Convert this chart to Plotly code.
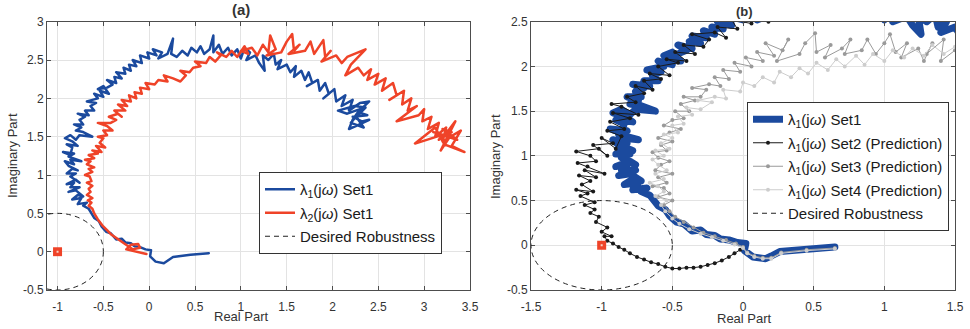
import plotly.graph_objects as go

# ---------------- data (real part, imaginary part) ----------------
# lambda_1(jw) Set1 (used in both panels)
l1_set1 = [(0.65, -0.02), (0.45, -0.04), (0.26, -0.07), (0.2, -0.12), (0.16, -0.15), (0.07, -0.13), (0.01, -0.06),
           (0.02, 0.02), (-0.04, 0.03), (-0.1, 0.06), (-0.16, 0.07), (-0.2, 0.11), (-0.26, 0.12), (-0.3, 0.17),
           (-0.36, 0.16), (-0.42, 0.24), (-0.47, 0.26), (-0.52, 0.33), (-0.55, 0.4), (-0.6, 0.44), (-0.63, 0.5),
           (-0.66, 0.56), (-0.72, 0.6), (-0.68, 0.64), (-0.78, 0.62), (-0.74, 0.7), (-0.84, 0.68), (-0.78, 0.74),
           (-0.72, 0.72), (-0.8, 0.8), (-0.88, 0.78), (-0.76, 0.84), (-0.86, 0.84), (-0.82, 0.9),
           (-0.9, 0.88), (-0.8, 0.94), (-0.76, 0.9), (-0.86, 0.98), (-0.8, 1.02), (-0.9, 1.02), (-0.84, 1.08),
           (-0.78, 1.06), (-0.88, 1.12), (-0.92, 1.18), (-0.82, 1.14), (-0.86, 1.2), (-0.74, 1.18), (-0.88, 1.24),
           (-0.82, 1.28), (-0.94, 1.3), (-0.86, 1.26), (-0.84, 1.36), (-0.9, 1.4), (-0.78, 1.38), (-0.84, 1.44),
           (-0.92, 1.48), (-0.86, 1.52), (-0.8, 1.46), (-0.76, 1.52), (-0.62, 1.5), (-0.72, 1.56),
           (-0.8, 1.58), (-0.74, 1.62), (-0.82, 1.66), (-0.72, 1.66), (-0.76, 1.72), (-0.7, 1.76), (-0.78, 1.8),
           (-0.66, 1.78), (-0.7, 1.84),
           (-0.6, 1.84), (-0.64, 1.9), (-0.58, 1.94), (-0.68, 1.96), (-0.56, 2.0), (-0.6, 2.06), (-0.5, 2.02),
           (-0.54, 2.1), (-0.44, 2.06), (-0.5, 2.16), (-0.56, 2.12), (-0.46, 2.14), (-0.4, 2.18),
           (-0.46, 2.24), (-0.36, 2.2), (-0.38, 2.28), (-0.3, 2.26), (-0.36, 2.34), (-0.26, 2.32), (-0.28, 2.4),
           (-0.2, 2.36), (-0.22, 2.44), (-0.14, 2.42), (-0.18, 2.5), (-0.08, 2.46), (-0.1, 2.56), (0.0, 2.52),
           (-0.02, 2.6), (0.08, 2.56), (0.04, 2.64), (0.14, 2.6), (0.1, 2.52), (0.2, 2.58), (0.26, 2.78),
           (0.24, 2.58), (0.3, 2.54), (0.36, 2.62), (0.42, 2.56), (0.46, 2.66), (0.52, 2.6), (0.56, 2.68),
           (0.6, 2.58), (0.66, 2.64), (0.7, 2.82), (0.7, 2.6), (0.76, 2.7), (0.8, 2.58), (0.86, 2.66),
           (0.9, 2.56), (0.96, 2.64), (1.0, 2.52), (1.04, 2.66), (1.1, 2.6), (1.06, 2.5), (1.16, 2.56),
           (1.2, 2.46), (1.26, 2.36), (1.24, 2.56), (1.3, 2.5), (1.36, 2.58), (1.38, 2.44), (1.44, 2.5),
           (1.4, 2.38), (1.5, 2.44), (1.54, 2.34), (1.6, 2.42), (1.58, 2.28), (1.66, 2.36), (1.7, 2.24),
           (1.74, 2.34), (1.78, 2.2), (1.72, 2.16), (1.84, 2.24), (1.86, 2.1), (1.92, 2.2), (1.96, 2.06),
           (1.9, 2.0), (2.02, 2.12), (2.04, 1.96), (2.14, 2.04), (2.1, 1.9), (2.22, 1.98), (2.18, 1.84),
           (2.3, 1.94), (2.4, 1.96), (2.28, 1.82), (2.38, 1.78), (2.22, 1.76), (2.32, 1.7), (2.4, 1.72),
           (2.26, 1.64), (2.18, 1.6), (2.22, 1.72), (2.3, 1.86), (2.16, 1.8), (2.06, 1.84), (2.24, 1.9),
           (2.36, 1.88), (2.26, 1.76), (2.34, 1.62), (2.2, 1.68), (2.28, 1.8)]

# lambda_2(jw) Set1 (left panel only)
l2_set1 = [(-0.03, -0.03), (-0.25, 0.03), (-0.2, 0.09), (-0.12, 0.1), (-0.1, 0.05), (-0.18, 0.03), (-0.24, 0.08),
           (-0.3, 0.13), (-0.36, 0.18), (-0.41, 0.22), (-0.46, 0.28), (-0.51, 0.34), (-0.56, 0.42), (-0.6, 0.5),
           (-0.62, 0.56), (-0.66, 0.6), (-0.63, 0.64), (-0.67, 0.67), (-0.62, 0.7), (-0.68, 0.74), (-0.64, 0.78),
           (-0.66, 0.82), (-0.62, 0.86), (-0.68, 0.9), (-0.63, 0.92), (-0.65, 0.98), (-0.7, 1.0), (-0.62, 1.04),
           (-0.66, 1.08), (-0.6, 1.1), (-0.68, 1.14), (-0.64, 1.18), (-0.7, 1.2),
           (-0.6, 1.22), (-0.66, 1.26), (-0.56, 1.28), (-0.62, 1.32), (-0.52, 1.3), (-0.58, 1.38), (-0.48, 1.36),
           (-0.54, 1.42), (-0.5, 1.48), (-0.56, 1.5),
           (-0.46, 1.52), (-0.5, 1.58), (-0.4, 1.58), (-0.46, 1.64), (-0.56, 1.68), (-0.42, 1.68), (-0.36, 1.72),
           (-0.44, 1.76), (-0.34, 1.8), (-0.3, 1.76), (-0.38, 1.84), (-0.26, 1.84),
           (-0.34, 1.92), (-0.24, 1.9), (-0.3, 1.98), (-0.2, 1.96), (-0.22, 2.04), (-0.14, 2.0), (-0.16, 2.08),
           (-0.08, 2.06), (-0.1, 2.14), (0.0, 2.12),
           (-0.04, 2.2), (0.06, 2.18), (0.1, 2.24), (0.2, 2.22), (0.16, 2.3), (0.26, 2.26), (0.34, 2.22),
           (0.4, 2.3), (0.34, 2.36), (0.44, 2.34), (0.48, 2.4),
           (0.56, 2.42), (0.5, 2.48), (0.62, 2.46), (0.66, 2.54), (0.72, 2.48), (0.78, 2.56), (0.74, 2.6),
           (0.84, 2.54), (0.9, 2.62),
           (0.96, 2.54), (1.04, 2.68), (1.08, 2.58), (1.0, 2.62), (1.12, 2.66), (1.18, 2.56), (1.24, 2.7),
           (1.3, 2.6), (1.32, 2.82), (1.38, 2.64), (1.28, 2.56), (1.44, 2.6), (1.5, 2.74), (1.56, 2.84),
           (1.58, 2.62), (1.64, 2.7), (1.52, 2.58), (1.7, 2.62), (1.76, 2.74), (1.8, 2.58), (1.86, 2.68),
           (1.9, 2.76), (1.92, 2.54), (1.98, 2.62), (1.88, 2.48),
           (2.04, 2.56), (2.1, 2.46), (2.16, 2.54), (2.36, 2.64), (2.2, 2.44), (2.14, 2.3), (2.28, 2.4),
           (2.34, 2.3), (2.42, 2.38), (2.38, 2.24), (2.5, 2.32), (2.46, 2.18), (2.58, 2.26),
           (2.54, 2.1), (2.66, 2.2), (2.7, 2.04), (2.62, 1.98), (2.78, 2.1), (2.76, 1.92), (2.86, 2.0),
           (2.82, 1.84), (2.92, 1.9), (2.7, 1.7), (2.94, 1.78), (3.0, 1.86), (2.98, 1.7),
           (3.08, 1.76), (3.04, 1.6), (3.16, 1.68), (3.12, 1.5), (3.24, 1.62), (3.2, 1.44), (3.4, 1.58),
           (3.3, 1.38), (3.44, 1.3), (3.22, 1.4), (3.12, 1.62), (2.9, 1.41), (3.24, 1.54), (3.34, 1.7),
           (3.18, 1.32), (3.28, 1.5), (3.1, 1.56), (3.36, 1.46), (3.2, 1.6), (3.3, 1.56), (3.16, 1.46),
           (3.26, 1.58)]

# lambda_1(jw) Set2 (Prediction)
l1_set2 = [(-0.02, -0.05), (-0.06, -0.09), (-0.1, -0.13), (-0.15, -0.17), (-0.2, -0.2), (-0.25, -0.22),
           (-0.3, -0.24), (-0.35, -0.25), (-0.4, -0.25), (-0.45, -0.26), (-0.5, -0.26), (-0.55, -0.24),
           (-0.6, -0.21), (-0.65, -0.19), (-0.7, -0.16), (-0.75, -0.13), (-0.8, -0.09), (-0.84, -0.05),
           (-0.88, -0.02), (-0.92, 0.02), (-0.96, 0.05), (-0.98, 0.1), (-0.93, 0.1), (-1.0, 0.15), (-0.96, 0.2),
           (-1.04, 0.26), (-1.02, 0.32), (-1.08, 0.36), (-1.05, 0.4), (-1.12, 0.45), (-1.05, 0.48),
           (-1.15, 0.55), (-1.1, 0.58), (-1.18, 0.62), (-1.06, 0.6), (-1.14, 0.68), (-1.08, 0.72),
           (-1.16, 0.78), (-1.04, 0.76), (-1.12, 0.84), (-0.98, 0.8), (-1.1, 0.88), (-1.17, 0.92),
           (-1.04, 0.94), (-1.08, 1.0), (-1.18, 1.05), (-1.02, 1.08), (-0.96, 1.0), (-1.06, 1.12),
           (-0.92, 1.14), (-1.0, 1.2), (-0.9, 1.08), (-0.86, 1.22), (-0.96, 1.28), (-0.84, 1.3), (-0.94, 1.38),
           (-0.8, 1.42), (-0.92, 1.48), (-0.74, 1.46), (-0.86, 1.55), (-0.93, 1.58), (-0.76, 1.6),
           (-0.82, 1.66), (-0.7, 1.7), (-0.76, 1.78), (-0.64, 1.74), (-0.7, 1.84), (-0.58, 1.86),
           (-0.66, 1.92), (-0.52, 1.9), (-0.6, 2.0), (-0.46, 2.04), (-0.54, 2.08), (-0.4, 2.06),
           (-0.48, 2.16), (-0.34, 2.14), (-0.42, 2.24), (-0.28, 2.22), (-0.24, 2.3), (-0.36, 2.36),
           (-0.2, 2.38), (-0.12, 2.32), (-0.18, 2.44), (-0.04, 2.42), (-0.08, 2.52), (0.06, 2.48),
           (0.02, 2.58), (0.18, 2.5), (0.28, 2.6), (0.36, 2.54)]

# lambda_1(jw) Set3 (Prediction)
l1_set3 = [(0.65, -0.03), (0.45, -0.05), (0.27, -0.08), (0.2, -0.14), (0.14, -0.14), (0.08, -0.12), (0.03, -0.08),
           (0.0, -0.02), (-0.05, 0.02), (-0.12, 0.06), (-0.2, 0.1), (-0.28, 0.14), (-0.35, 0.2), (-0.42, 0.26),
           (-0.48, 0.32), (-0.52, 0.38), (-0.56, 0.45), (-0.5, 0.5), (-0.6, 0.54), (-0.52, 0.58), (-0.56, 0.64),
           (-0.64, 0.66), (-0.54, 0.7), (-0.6, 0.76), (-0.5, 0.8), (-0.62, 0.84), (-0.58, 0.9), (-0.52, 0.94),
           (-0.6, 0.98), (-0.64, 1.04), (-0.54, 1.06), (-0.58, 1.12), (-0.5, 1.16), (-0.6, 1.2), (-0.52, 1.26),
           (-0.44, 1.3), (-0.56, 1.34), (-0.5, 1.4), (-0.42, 1.42), (-0.48, 1.5), (-0.38, 1.5), (-0.44, 1.58),
           (-0.34, 1.62), (-0.42, 1.66), (-0.3, 1.66), (-0.26, 1.74), (-0.36, 1.76), (-0.24, 1.8), (-0.16, 1.78),
           (-0.2, 1.88), (-0.1, 1.86), (-0.14, 1.96), (-0.02, 1.94), (-0.06, 2.04), (0.06, 2.0), (0.02, 2.1),
           (0.14, 2.06), (0.1, 2.16), (0.22, 2.12), (0.16, 2.26), (0.28, 2.18), (0.32, 2.3), (0.24, 2.06),
           (0.4, 2.14), (0.44, 2.26), (0.51, 2.37), (0.52, 2.16), (0.62, 2.24), (0.58, 2.1), (0.7, 2.2),
           (0.76, 2.3), (0.72, 2.14), (0.84, 2.18), (0.88, 2.3), (0.94, 2.14), (1.0, 2.26), (1.04, 2.36),
           (1.08, 2.16), (1.16, 2.26), (1.12, 2.1), (1.24, 2.2), (1.28, 2.06), (1.34, 2.26), (1.3, 2.14),
           (1.42, 2.3), (1.4, 2.06), (1.5, 2.18), (1.54, 2.1)]

# lambda_1(jw) Set4 (Prediction)
l1_set4 = [(0.65, -0.04), (0.45, -0.06), (0.27, -0.09), (0.2, -0.15), (0.14, -0.15), (0.08, -0.13), (0.03, -0.09),
           (0.0, -0.03), (-0.06, 0.01), (-0.14, 0.05), (-0.22, 0.09), (-0.3, 0.13), (-0.38, 0.18), (-0.45, 0.24),
           (-0.5, 0.3), (-0.55, 0.38), (-0.58, 0.45), (-0.54, 0.5), (-0.62, 0.55), (-0.56, 0.6), (-0.6, 0.66),
           (-0.66, 0.7), (-0.56, 0.74), (-0.62, 0.8), (-0.54, 0.84), (-0.6, 0.9), (-0.64, 0.96), (-0.56, 1.0),
           (-0.62, 1.06), (-0.52, 1.08), (-0.58, 1.14), (-0.5, 1.2), (-0.56, 1.24), (-0.46, 1.26), (-0.5, 1.34),
           (-0.42, 1.36), (-0.46, 1.44), (-0.36, 1.46), (-0.4, 1.54), (-0.3, 1.52), (-0.22, 1.6), (-0.32, 1.62),
           (-0.2, 1.66), (-0.12, 1.64), (-0.14, 1.74), (-0.02, 1.72), (0.0, 1.82), (0.08, 1.78), (0.14, 1.88),
           (0.22, 1.82), (0.26, 1.94), (0.34, 1.88), (0.4, 1.98), (0.46, 1.92), (0.52, 2.04), (0.6, 1.96),
           (0.66, 2.08), (0.72, 2.0), (0.8, 2.12), (0.86, 2.02), (0.92, 2.14), (1.0, 2.06), (1.06, 2.18),
           (1.14, 2.1), (1.2, 2.2), (1.28, 2.12), (1.34, 2.24), (1.42, 2.14), (1.5, 2.22)]

# critical point and robustness circle
critical_re = [-1.0]
critical_im = [0.0]
robust_center = (-1.0, 0.0)
robust_radius = 0.5

# axes ticks
left_xticks = [-1, -0.5, 0, 0.5, 1, 1.5, 2, 2.5, 3, 3.5]
left_yticks = [-0.5, 0, 0.5, 1, 1.5, 2, 2.5, 3]
right_xticks = [-1.5, -1, -0.5, 0, 0.5, 1, 1.5]
right_yticks = [-0.5, 0, 0.5, 1, 1.5, 2, 2.5]

names_left = ["λ<sub>1</sub>(j<i>ω</i>) Set1", "λ<sub>2</sub>(j<i>ω</i>) Set1"]
names_right = ["λ<sub>1</sub>(j<i>ω</i>) Set1", "λ<sub>1</sub>(j<i>ω</i>) Set2 (Prediction)",
               "λ<sub>1</sub>(j<i>ω</i>) Set3 (Prediction)", "λ<sub>1</sub>(j<i>ω</i>) Set4 (Prediction)"]
robust_name = "Desired Robustness"

# ---------------- style ----------------
BLUE = "#1b4a9e"
RED = "#ef4328"
BLACK = "#1a1a1a"
GREY = "#9a9a9a"
LGREY = "#cdcdcd"
FONT = "Liberation Sans, Arial, sans-serif"
TXT = "#333333"
W, H = 970, 329


def re(s):
    return [p[0] for p in s]


def im(s):
    return [p[1] for p in s]


def fx(v):
    return v / W


def fy(v):
    return 1 - v / H


fig = go.Figure()

# ---- left panel ----
fig.add_trace(go.Scatter(x=re(l1_set1), y=im(l1_set1), mode="lines", name=names_left[0], legendgroup="a1",
                         line=dict(color=BLUE, width=2.5), xaxis="x", yaxis="y", legend="legend"))
fig.add_trace(go.Scatter(x=re(l2_set1), y=im(l2_set1), mode="lines", name=names_left[1], legendgroup="a2",
                         line=dict(color=RED, width=2.5), xaxis="x", yaxis="y", legend="legend"))
fig.add_trace(go.Scatter(x=[None], y=[None], mode="lines", name=robust_name, legendgroup="a3",
                         line=dict(color="#222222", width=1, dash="5px,4px"), xaxis="x", yaxis="y",
                         legend="legend"))
fig.add_trace(go.Scatter(x=critical_re, y=critical_im, mode="markers", showlegend=False,
                         marker=dict(symbol="square", size=9, color=RED), xaxis="x", yaxis="y"))
fig.add_trace(go.Scatter(x=critical_re, y=critical_im, mode="markers", showlegend=False,
                         marker=dict(symbol="square", size=2, color="#f8d0c4"), xaxis="x", yaxis="y"))

# ---- right panel ----
fig.add_trace(go.Scatter(x=re(l1_set1), y=im(l1_set1), mode="lines", name=names_right[0], legendgroup="b1",
                         line=dict(color=BLUE, width=7), xaxis="x2", yaxis="y2", legend="legend2"))
fig.add_trace(go.Scatter(x=re(l1_set2), y=im(l1_set2), mode="lines+markers", name=names_right[1],
                         legendgroup="b2", line=dict(color=BLACK, width=1), marker=dict(size=4, color=BLACK),
                         xaxis="x2", yaxis="y2", legend="legend2"))
fig.add_trace(go.Scatter(x=re(l1_set3), y=im(l1_set3), mode="lines+markers", name=names_right[2],
                         legendgroup="b3", line=dict(color=GREY, width=1), marker=dict(size=4, color=GREY),
                         xaxis="x2", yaxis="y2", legend="legend2"))
fig.add_trace(go.Scatter(x=re(l1_set4), y=im(l1_set4), mode="lines+markers", name=names_right[3],
                         legendgroup="b4", line=dict(color=LGREY, width=1), marker=dict(size=4, color=LGREY),
                         xaxis="x2", yaxis="y2", legend="legend2"))
fig.add_trace(go.Scatter(x=[None], y=[None], mode="lines", name=robust_name, legendgroup="b5",
                         line=dict(color="#222222", width=1, dash="5px,4px"), xaxis="x2", yaxis="y2",
                         legend="legend2"))
fig.add_trace(go.Scatter(x=critical_re, y=critical_im, mode="markers", showlegend=False,
                         marker=dict(symbol="square", size=9, color=RED), xaxis="x2", yaxis="y2"))
fig.add_trace(go.Scatter(x=critical_re, y=critical_im, mode="markers", showlegend=False,
                         marker=dict(symbol="square", size=2, color="#f8d0c4"), xaxis="x2", yaxis="y2"))

# robustness circles (drawn through the data axes)
cx, cy = robust_center
for xr, yr in [("x", "y"), ("x2", "y2")]:
    fig.add_shape(type="circle", xref=xr, yref=yr,
                  x0=cx - robust_radius, x1=cx + robust_radius,
                  y0=cy - robust_radius, y1=cy + robust_radius,
                  line=dict(color="#222222", width=1, dash="5px,4px"), layer="above")

axis_common = dict(showgrid=True, gridcolor="#e3e3e3", gridwidth=1, zeroline=False, automargin=False,
                   showline=True, linecolor="#4d4d4d", linewidth=1, mirror="ticks",
                   ticks="inside", ticklen=4, tickcolor="#4d4d4d",
                   tickfont=dict(family=FONT, size=12, color=TXT))

legend_common = dict(xanchor="left", yanchor="top", bgcolor="white", bordercolor="#333333", borderwidth=1,
                     font=dict(family=FONT, size=15, color="#1a1a1a"), itemwidth=30)

fig.update_layout(
    width=W, height=H, margin=dict(l=0, r=0, t=0, b=0, autoexpand=False),
    paper_bgcolor="white", plot_bgcolor="white",
    font=dict(family=FONT, color=TXT),
    xaxis=dict(domain=[fx(47), fx(470)], range=[-1.115, 3.5], anchor="y", ticklabelstandoff=6,
               tickvals=left_xticks, ticktext=[f"{t:g}" for t in left_xticks], **axis_common),
    yaxis=dict(domain=[fy(290), fy(21.7)], range=[-0.5, 3], anchor="x",
               tickvals=left_yticks, ticktext=[f"{t:g}" for t in left_yticks], **axis_common),
    xaxis2=dict(domain=[fx(531), fx(955)], range=[-1.5, 1.5], anchor="y2", ticklabelstandoff=6,
                tickvals=right_xticks, ticktext=[f"{t:g}" for t in right_xticks], **axis_common),
    yaxis2=dict(domain=[fy(290), fy(21.7)], range=[-0.5, 2.5], anchor="x2",
                tickvals=right_yticks, ticktext=[f"{t:g}" for t in right_yticks], **axis_common),
    legend=dict(x=fx(259), y=fy(172), tracegroupgap=1, **legend_common),
    legend2=dict(x=fx(747), y=fy(102), tracegroupgap=1, **legend_common),
    showlegend=True,
)

annots = [
    dict(text="<b>(a)</b>", x=fx(241), y=fy(9.5), size=15),
    dict(text="<b>(b)</b>", x=fx(744), y=fy(11.5), size=13),
    dict(text="Real Part", x=fx(241), y=fy(316), size=13),
    dict(text="Real Part", x=fx(744), y=fy(318), size=13),
]
for a in annots:
    fig.add_annotation(text=a["text"], x=a["x"], y=a["y"], xref="paper", yref="paper",
                       xanchor="center", yanchor="middle", showarrow=False,
                       font=dict(family=FONT, size=a["size"], color=TXT))
for xc in [13, 496]:
    fig.add_annotation(text="Imaginary Part", x=fx(xc), y=fy(156), xref="paper", yref="paper",
                       xanchor="center", yanchor="middle", showarrow=False, textangle=-90,
                       font=dict(family=FONT, size=13, color=TXT))

# round line joins, as in the reference rendering
post = ("var s=document.createElement('style');"
        "s.textContent='.scatterlayer .js-line{stroke-linejoin:round;stroke-linecap:round;}';"
        "document.head.appendChild(s);")

fig.write_html("out.html", post_script=post)
